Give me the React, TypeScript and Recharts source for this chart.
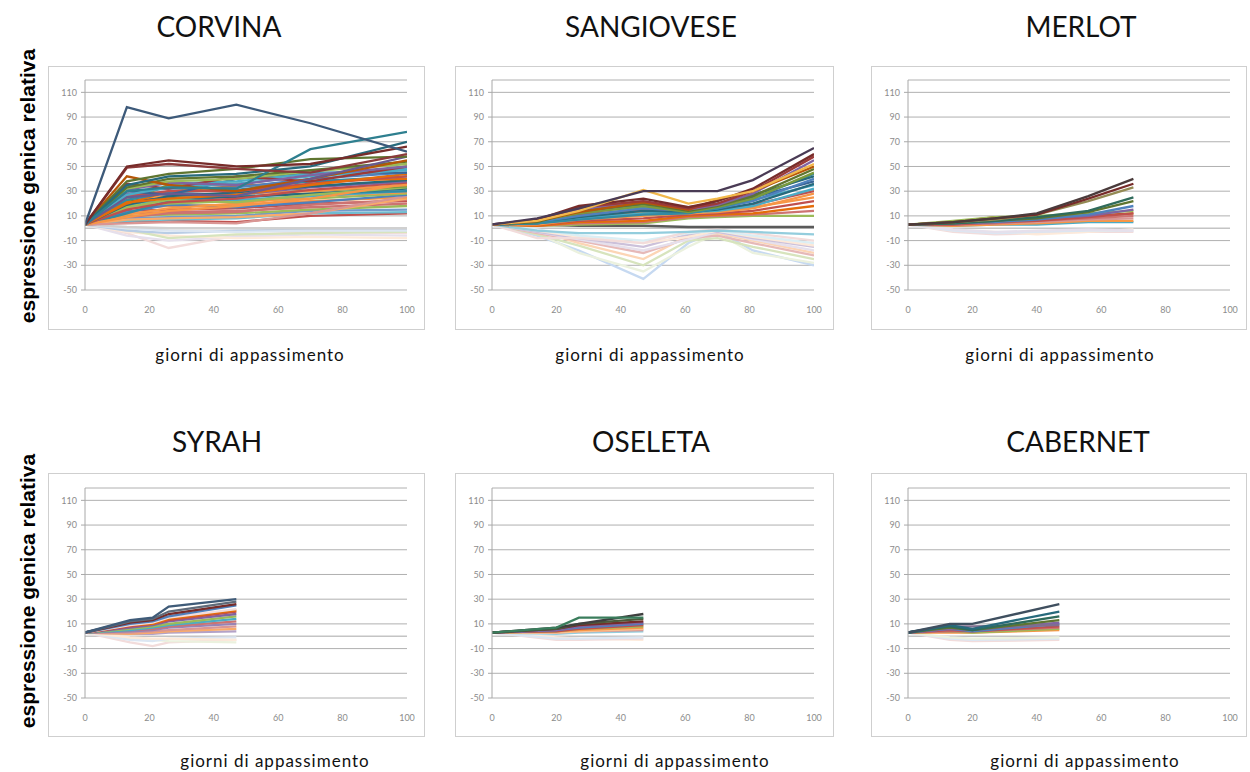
import React from 'react';
import { LineChart, Line, XAxis, YAxis, CartesianGrid, ReferenceLine } from 'recharts';

// ---------- shared axis ticks ----------
const xTicks = [0, 20, 40, 60, 80, 100];
const yTicks = [-50, -30, -10, 10, 30, 50, 70, 90, 110];

// ---------- CORVINA ----------
const corvinaDays = [0, 13, 26, 47, 70, 100];
const corvinaSeries = [
  [3, 98, 89, 100, 85, 62],
  [3, 50, 55, 50, 52, 66],
  [3, 49, 52, 48, 45, 60],
  [3, 30, 33, 32, 64, 78],
  [3, 35, 42, 44, 50, 70],
  [3, 38, 44, 48, 56, 58],
  [3, 25, 28, 26, 40, 58],
  [3, 42, 35, 30, 40, 55],
  [3, 33, 40, 42, 47, 54],
  [3, 32, 38, 40, 46, 52],
  [3, 31, 37, 35, 43, 50],
  [3, 36, 32, 42, 38, 50],
  [3, 34, 36, 38, 44, 48],
  [3, 27, 33, 36, 42, 47],
  [3, 30, 27, 40, 45, 45],
  [3, 30, 32, 33, 40, 45],
  [3, 21, 24, 27, 35, 44],
  [3, 26, 30, 30, 36, 42],
  [3, 23, 29, 31, 38, 42],
  [3, 20, 30, 34, 38, 40],
  [3, 19, 26, 29, 34, 39],
  [3, 28, 28, 27, 33, 38],
  [3, 15, 21, 24, 31, 37],
  [3, 9, 14, 18, 24, 36],
  [3, 24, 26, 28, 30, 35],
  [3, 22, 35, 36, 30, 34],
  [3, 17, 23, 21, 27, 33],
  [3, 22, 25, 25, 28, 32],
  [3, 12, 22, 26, 28, 30],
  [3, 20, 22, 23, 26, 30],
  [3, 11, 16, 20, 26, 29],
  [3, 18, 20, 22, 24, 28],
  [3, 13, 19, 17, 21, 27],
  [3, 4, 5, 4, 12, 26],
  [3, 16, 18, 19, 22, 25],
  [3, 7, 8, 9, 12, 24],
  [3, 9, 12, 13, 19, 23],
  [3, 14, 15, 16, 20, 22],
  [3, 12, 13, 14, 17, 20],
  [3, 10, 11, 12, 15, 18],
  [3, 8, 9, 10, 14, 15],
  [3, 6, 7, 8, 12, 13],
  [3, 5, 6, 5, 10, 12],
  [3, 1, 0, 0, 0, 0],
  [3, 0, -2, -3, -2, -2],
  [3, -2, -4, -2, -1, -1],
  [3, -1, -8, -5, -4, -3],
  [3, -3, -6, -8, -7, -8],
  [3, -6, -10, -7, -5, -6],
  [3, -4, -16, -6, -3, -4],
];
const corvinaColors = [
  '#3d5a7a', '#772c2a', '#8b3a3a', '#2e7f8f', '#276a7c', '#5f7530', '#6a5a8f', '#b65708',
  '#5f7530', '#9bbb59', '#8064a2', '#9c3a38', '#4bacc6', '#4bacc6', '#3a6595', '#4f81bd',
  '#e46c0a', '#c0504d', '#338aa3', '#e46c0a', '#276a7c', '#8064a2', '#c0504d', '#f79646',
  '#f79646', '#7b9a3e', '#9bbb59', '#276a7c', '#338aa3', '#4bacc6', '#f79646', '#9bbb59',
  '#4f81bd', '#d99694', '#f79646', '#f9ab6b', '#cd7371', '#c0504d', '#cd7371', '#9bbb59',
  '#729aca', '#6fbdd1', '#c0504d', '#d0d0d0', '#dce6f2', '#b9cde5', '#d7e4bd', '#fdeada',
  '#e6e0ec', '#f2dcdb',
];

// ---------- SANGIOVESE ----------
const sangioveseDays = [0, 14, 27, 47, 61, 70, 81, 100];
const sangioveseSeries = [
  [3, 8, 16, 30, 30, 30, 39, 65],
  [3, 6, 14, 31, 20, 24, 30, 52],
  [3, 7, 18, 24, 17, 22, 32, 60],
  [3, 6, 17, 22, 16, 20, 30, 58],
  [3, 6, 13, 21, 15, 23, 30, 50],
  [3, 7, 15, 22, 15, 19, 28, 55],
  [3, 5, 14, 20, 14, 18, 26, 48],
  [3, 6, 12, 18, 13, 17, 24, 45],
  [3, 6, 16, 20, 15, 19, 27, 42],
  [3, 4, 7, 11, 12, 16, 24, 44],
  [3, 5, 10, 16, 14, 16, 22, 40],
  [3, 5, 12, 19, 17, 20, 25, 38],
  [3, 4, 9, 14, 13, 15, 20, 36],
  [3, 5, 13, 17, 14, 17, 23, 35],
  [3, 4, 8, 12, 13, 14, 18, 32],
  [3, 4, 11, 15, 13, 15, 19, 30],
  [3, 3, 7, 10, 12, 13, 16, 28],
  [3, 4, 9, 13, 12, 14, 17, 25],
  [3, 3, 6, 8, 11, 12, 14, 22],
  [3, 2, 5, 6, 10, 11, 12, 18],
  [3, 2, 4, 5, 9, 10, 11, 14],
  [3, 2, 3, 4, 8, 9, 10, 10],
  [3, 3, 2, 2, 1, 1, 1, 1],
  [3, -2, -4, -4, -3, -2, -3, -5],
  [3, -8, -8, -12, -3, -1, -4, -10],
  [3, -1, -6, -10, -4, -2, -6, -12],
  [3, -2, -7, -12, -7, -2, -7, -14],
  [3, -3, -8, -15, -5, -3, -8, -15],
  [3, -3, -9, -18, -9, -3, -9, -18],
  [3, -4, -10, -20, -8, -6, -12, -22],
  [3, -2, -12, -25, -6, -4, -10, -20],
  [3, -5, -14, -30, -10, -8, -15, -25],
  [3, -4, -20, -35, -15, -4, -20, -28],
  [3, -6, -18, -41, -12, -2, -18, -30],
];
const sangioveseColors = [
  '#4a3b55', '#f2b84b', '#772c2a', '#9c3a38', '#b65708', '#8064a2', '#5f7530', '#7b9a3e',
  '#276a7c', '#338aa3', '#4f81bd', '#3a6595', '#276a7c', '#4bacc6', '#4bacc6', '#c0504d',
  '#f79646', '#f79646', '#c0504d', '#e46c0a', '#cd7371', '#9bbb59', '#5a5a5a', '#93cddd',
  '#f2dcdb', '#dbeef4', '#fde9d9', '#ccc1da', '#e6e0ec', '#e6b9b8', '#fcd5b5', '#d7e4bd',
  '#ebf1de', '#c6d9f1',
];

// ---------- MERLOT ----------
const merlotDays = [0, 14, 27, 40, 56, 70];
const merlotSeries = [
  [3, 5, 8, 12, 26, 40],
  [3, 5, 8, 11, 24, 36],
  [3, 5, 7, 11, 22, 33],
  [3, 4, 6, 9, 14, 25],
  [3, 4, 6, 8, 13, 22],
  [3, 4, 5, 7, 11, 18],
  [3, 4, 6, 8, 10, 15],
  [3, 6, 9, 10, 12, 14],
  [3, 3, 5, 6, 9, 12],
  [3, 5, 9, 8, 10, 12],
  [3, 3, 4, 6, 8, 10],
  [3, 3, 4, 5, 7, 8],
  [3, 2, 3, 4, 6, 6],
  [3, 2, 3, 3, 5, 5],
  [3, -1, -3, -2, -1, -2],
  [3, -2, -4, -3, -2, -2],
  [3, -2, -3, -5, -3, -1],
  [3, -3, -5, -4, -3, -3],
];
const merlotColors = [
  '#4a3b3b', '#772c2a', '#948a54', '#2f6b5b', '#5f7530', '#4f81bd', '#8064a2', '#9bbb59',
  '#c0504d', '#b65708', '#cd7371', '#d99694', '#f79646', '#4bacc6', '#e6e0ec', '#dce6f2',
  '#fdeada', '#f2dcdb',
];

// ---------- SYRAH ----------
const syrahDays = [0, 14, 21, 26, 47];
const syrahSeries = [
  [3, 13, 15, 24, 30],
  [3, 12, 14, 20, 28],
  [3, 11, 13, 18, 26],
  [3, 10, 12, 16, 25],
  [3, 9, 11, 15, 22],
  [3, 9, 10, 14, 21],
  [3, 8, 10, 13, 20],
  [3, 7, 9, 12, 18],
  [3, 6, 8, 10, 16],
  [3, 5, 7, 9, 14],
  [3, 5, 6, 8, 12],
  [3, 4, 5, 7, 10],
  [3, 3, 4, 5, 8],
  [3, 2, 3, 4, 6],
  [3, 2, 2, 3, 4],
  [3, -1, -2, -2, -3],
  [3, -3, -4, -2, -1],
  [3, -2, -3, -4, -5],
  [3, -5, -8, -5, -3],
];
const syrahColors = [
  '#3f5b78', '#5f6b7a', '#772c2a', '#4f81bd', '#f2dcdb', '#e46c0a', '#c0504d', '#8064a2',
  '#9bbb59', '#4bacc6', '#cd7371', '#9983b5', '#d99694', '#f9ab6b', '#b3a2c7', '#fdeada',
  '#dce6f2', '#ebf1de', '#f2dcdb',
];

// ---------- OSELETA ----------
const oseletaDays = [0, 20, 27, 47];
const oseletaSeries = [
  [3, 7, 15, 15],
  [3, 7, 10, 18],
  [3, 6, 10, 14],
  [3, 6, 9, 12],
  [3, 5, 8, 11],
  [3, 5, 7, 10],
  [3, 4, 6, 9],
  [3, 4, 6, 8],
  [3, 4, 5, 7],
  [3, 3, 4, 6],
  [3, 3, 4, 5],
  [3, 2, 3, 4],
  [3, -2, -2, -1],
  [3, -3, -3, -2],
  [3, -1, -2, -3],
];
const oseletaColors = [
  '#3a7d5c', '#3f3f3f', '#4d5b3b', '#772c2a', '#8064a2', '#4f81bd', '#c0504d', '#9bbb59',
  '#f79646', '#fac090', '#d99694', '#93cddd', '#dce6f2', '#f2dcdb', '#fdeada',
];

// ---------- CABERNET ----------
const cabernetDays = [0, 13, 20, 47];
const cabernetSeries = [
  [3, 10, 10, 26],
  [3, 9, 6, 20],
  [3, 8, 5, 16],
  [3, 7, 5, 13],
  [3, 8, 8, 9],
  [3, 6, 5, 11],
  [3, 6, 4, 10],
  [3, 5, 4, 8],
  [3, 4, 4, 7],
  [3, 4, 3, 6],
  [3, 3, 3, 5],
  [3, -1, -2, -1],
  [3, -2, -3, -2],
  [3, -3, -4, -3],
];
const cabernetColors = [
  '#3f4f5f', '#276a7c', '#2f6b5b', '#5f7530', '#7f6f8f', '#8064a2', '#4f81bd', '#c0504d',
  '#cd7371', '#9bbb59', '#f79646', '#ebf1de', '#dce6f2', '#f2dcdb',
];

const panelTitles = ['CORVINA', 'SANGIOVESE', 'MERLOT', 'SYRAH', 'OSELETA', 'CABERNET'];
const xLabel = 'giorni di appassimento';
const yLabel = 'espressione genica relativa';

// ---------- layout ----------
const colPlotLeft = [85, 492, 908];
const colBoxLeft = [48, 455, 871];
const colBoxRight = [425, 834, 1247];
const rowPlotTop = [80, 488];
const rowBoxTop = [66, 473];
const rowBoxBottom = [330, 737];
const titleCenters = [[219, 651, 1081], [217, 651, 1078]];
const titleBaselines = [37, 452];
const xLabelCenters = [[250, 650, 1060], [275, 675, 1085]];
const xLabelBaselines = [361, 767];
const yLabelCenters = [186, 591];

const PLOT_W = 322;
const PLOT_H = 210;
const Y_AXIS_W = 40;
const M_TOP = 5;
const M_RIGHT = 8;
const X_AXIS_H = 30;

function buildRows(days: number[], series: number[][]) {
  return days.map((d, i) => {
    const row: Record<string, number> = { day: d };
    series.forEach((s, j) => {
      row['s' + j] = s[i];
    });
    return row;
  });
}

const tickStyle = { fontSize: 9, fill: '#8c8c8c', fontFamily: 'Lato, "Liberation Sans", sans-serif' };

function Panel(props: { days: number[]; series: number[][]; colors: string[]; row: number; col: number }) {
  const { days, series, colors, row, col } = props;
  const rows = buildRows(days, series);
  const order = series.map((_, j) => j).reverse();
  const left = colPlotLeft[col] - Y_AXIS_W;
  const top = rowPlotTop[row] - M_TOP;
  return (
    <div style={{ position: 'absolute', left, top }}>
      <LineChart
        width={Y_AXIS_W + PLOT_W + M_RIGHT}
        height={M_TOP + PLOT_H + X_AXIS_H}
        data={rows}
        margin={{ top: M_TOP, right: M_RIGHT, left: 0, bottom: 0 }}
      >
        <CartesianGrid vertical={false} stroke="#b0b0b0" />
        <XAxis
          dataKey="day"
          type="number"
          domain={[0, 100]}
          ticks={xTicks}
          interval={0}
          axisLine={false}
          tickLine={false}
          tickSize={6}
          tickMargin={11}
          height={X_AXIS_H}
          tick={tickStyle}
          allowDataOverflow
        />
        <YAxis
          type="number"
          domain={[-50, 120]}
          ticks={yTicks}
          interval={0}
          width={Y_AXIS_W}
          axisLine={{ stroke: '#a8a8a8' }}
          tickLine={{ stroke: '#a8a8a8' }}
          tickSize={4}
          tickMargin={4}
          tick={tickStyle}
          allowDataOverflow
        />
        <ReferenceLine y={0} stroke="#c4c4c4" strokeWidth={1.5} />
        {order.map((j) => (
          <Line
            key={j}
            type="linear"
            dataKey={'s' + j}
            stroke={colors[j % colors.length]}
            strokeWidth={2.3}
            dot={false}
            activeDot={false}
            isAnimationActive={false}
          />
        ))}
      </LineChart>
    </div>
  );
}

export default function App() {
  const panels = [
    { days: corvinaDays, series: corvinaSeries, colors: corvinaColors },
    { days: sangioveseDays, series: sangioveseSeries, colors: sangioveseColors },
    { days: merlotDays, series: merlotSeries, colors: merlotColors },
    { days: syrahDays, series: syrahSeries, colors: syrahColors },
    { days: oseletaDays, series: oseletaSeries, colors: oseletaColors },
    { days: cabernetDays, series: cabernetSeries, colors: cabernetColors },
  ];
  return (
    <div
      style={{
        position: 'absolute',
        left: 0,
        top: 0,
        width: 1250,
        height: 772,
        background: '#ffffff',
        overflow: 'hidden',
        fontFamily: 'Lato, sans-serif',
      }}
    >
      {panels.map((p, i) => {
        const row = Math.floor(i / 3);
        const col = i % 3;
        return (
          <div
            key={'box' + i}
            style={{
              position: 'absolute',
              left: colBoxLeft[col],
              top: rowBoxTop[row],
              width: colBoxRight[col] - colBoxLeft[col],
              height: rowBoxBottom[row] - rowBoxTop[row],
              border: '1px solid #cfcfcf',
              boxSizing: 'border-box',
            }}
          />
        );
      })}
      {panels.map((p, i) => (
        <Panel key={'p' + i} days={p.days} series={p.series} colors={p.colors} row={Math.floor(i / 3)} col={i % 3} />
      ))}
      <svg width={1250} height={772} style={{ position: 'absolute', left: 0, top: 0, pointerEvents: 'none' }}>
        {panelTitles.map((t, i) => {
          const row = Math.floor(i / 3);
          const col = i % 3;
          return (
            <text
              key={'t' + i}
              x={titleCenters[row][col]}
              y={titleBaselines[row]}
              textAnchor="middle"
              fontSize={28}
              fontFamily="Lato, sans-serif"
              fill="#111111"
            >
              {t}
            </text>
          );
        })}
        {panelTitles.map((_, i) => {
          const row = Math.floor(i / 3);
          const col = i % 3;
          return (
            <text
              key={'x' + i}
              x={xLabelCenters[row][col]}
              y={xLabelBaselines[row]}
              textAnchor="middle"
              fontSize={17}
              letterSpacing={1}
              fontFamily="Lato, sans-serif"
              fill="#111111"
            >
              {xLabel}
            </text>
          );
        })}
        {yLabelCenters.map((cy, i) => (
          <text
            key={'y' + i}
            x={0}
            y={0}
            transform={`translate(35, ${cy}) rotate(-90)`}
            textAnchor="middle"
            fontSize={21}
            fontWeight="bold"
            fontFamily='"Liberation Sans", Arial, sans-serif'
            fill="#000000"
          >
            {yLabel}
          </text>
        ))}
      </svg>
    </div>
  );
}
